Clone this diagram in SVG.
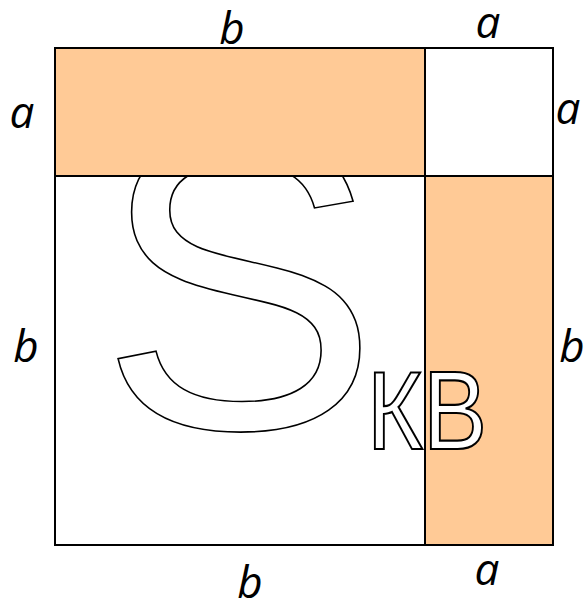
<svg xmlns="http://www.w3.org/2000/svg" width="585" height="603" viewBox="0 0 585 603">
<style>
.lbl{font-family:"Open Sans","Noto Sans",sans-serif;font-style:italic;font-size:44px;fill:#000;text-anchor:middle}
.big{font-family:"Liberation Sans",Arial,sans-serif;fill:#fff;stroke:#000}
.orange{fill:#FFCA96;stroke:none}
.edge{fill:none;stroke:#000;stroke-width:2}
</style>
<rect width="585" height="603" fill="#fff"/>
<g id="square-bb">
<rect x="55" y="176" width="370" height="369" fill="#fff"/>
<text class="big" x="99" y="428" font-size="420" stroke-width="1.6">S</text>
</g>
<g id="rect-top">
<rect class="orange" x="55" y="48" width="370" height="128"/>
</g>
<g id="square-aa">
<rect x="425" y="48" width="128" height="128" fill="#fff"/>
</g>
<g id="rect-right">
<rect class="orange" x="425" y="176" width="128" height="369"/>
</g>
<text class="big" x="367" y="449" font-size="112" stroke-width="2.2" textLength="120" lengthAdjust="spacingAndGlyphs">КВ</text>
<g id="connectors">
<rect class="edge" x="55" y="48" width="498" height="497"/>
<line class="edge" x1="55" y1="176" x2="553" y2="176"/>
<line class="edge" x1="425" y1="48" x2="425" y2="545"/>
</g>
<g id="labels">
<text class="lbl" x="232" y="44">b</text>
<text class="lbl" x="488" y="38">a</text>
<text class="lbl" x="22" y="128">a</text>
<text class="lbl" x="568" y="124">a</text>
<text class="lbl" x="26" y="362">b</text>
<text class="lbl" x="572" y="362">b</text>
<text class="lbl" x="250" y="598">b</text>
<text class="lbl" x="487" y="585">a</text>
</g>
</svg>
